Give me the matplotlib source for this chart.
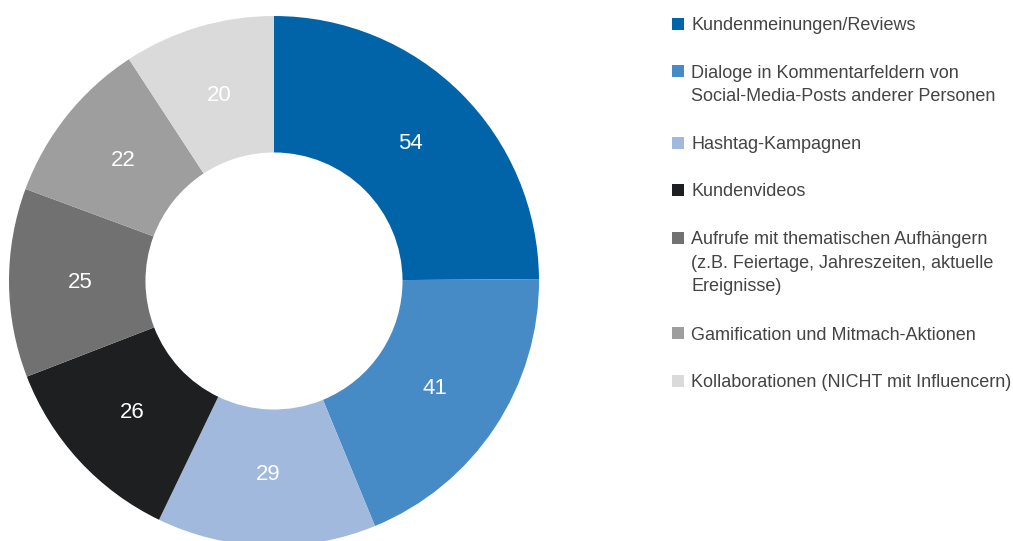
import numpy as np
import matplotlib.pyplot as plt
from matplotlib.patches import Rectangle

plt.rcParams['font.family'] = ['Liberation Sans', 'DejaVu Sans']

# Anteile je Format
labels = [
    "Kundenmeinungen/Reviews",
    "Dialoge in Kommentarfeldern von\nSocial-Media-Posts anderer Personen",
    "Hashtag-Kampagnen",
    "Kundenvideos",
    "Aufrufe mit thematischen Aufhängern\n(z.B. Feiertage, Jahreszeiten, aktuelle\nEreignisse)",
    "Gamification und Mitmach-Aktionen",
    "Kollaborationen (NICHT mit Influencern)",
]
values = [54, 41, 29, 26, 25, 22, 20]
colors = ["#0264a8", "#478bc6", "#a0b9dd", "#1e1f21", "#717171", "#9e9e9e", "#dadada"]

W, H = 1013, 541
fig = plt.figure(figsize=(W / 100, H / 100), dpi=100)

# donut axes: centre at (274, 281) px, radius 265 px
cx, cy, r = 274, 281, 265
ax = fig.add_axes([(cx - r) / W, (H - cy - r) / H, 2 * r / W, 2 * r / H])
wedges, _ = ax.pie(values, colors=colors, startangle=90, counterclock=False,
                   radius=1, wedgeprops=dict(width=0.515, linewidth=0))
ax.set_xlim(-1, 1)
ax.set_ylim(-1, 1)
ax.set_aspect('equal')
ax.axis('off')

for v, w in zip(values, wedges):
    mid = np.deg2rad((w.theta1 + w.theta2) / 2)
    ax.text(0.73 * np.cos(mid), 0.73 * np.sin(mid), str(v), ha='center', va='center',
            fontsize=16, color='white')

# legend drawn by hand on the right
x_box, x_txt = 672, 691
y = 23.5
for lab, col in zip(labels, colors):
    fig.patches.append(Rectangle((x_box / W, (H - y - 6) / H), 12 / W, 12 / H,
                                 transform=fig.transFigure, color=col, lw=0))
    # anchor on the top of the first line
    fig.text(x_txt / W, (H - y + 6.5) / H, lab, ha='left', va='top',
             fontsize=13, color='#444444', linespacing=1.5)
    y += 47.5 + 24 * lab.count("\n")

fig.savefig("out.png", dpi=100)
